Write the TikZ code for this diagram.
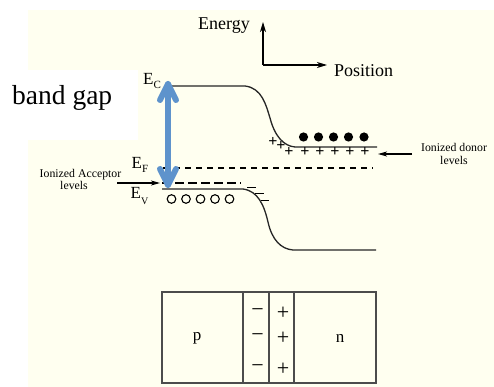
\documentclass[tikz,border=0pt]{standalone}
\usepackage{fontspec}
\setmainfont{Liberation Serif}
\usetikzlibrary{arrows.meta,calc}
\definecolor{cream}{RGB}{255,255,240}
\definecolor{gapblue}{RGB}{94,147,204}
\begin{document}
\begin{tikzpicture}[x=1pt,y=-1pt,
  bandline/.style={line width=1.3pt, black!85, line join=round},
  txt/.style={inner sep=0pt, anchor=base west},
  lbl/.style={inner sep=0pt, font=\fontsize{11.8}{12}\selectfont},
  chg/.style={inner sep=0pt, font=\fontsize{16}{16}\selectfont\bfseries},
  thin/.style={line width=1pt, black},
  axisarrow/.style={line width=1.1pt, -{Stealth[length=10pt,width=6pt,inset=3pt]}},
  ptr/.style={line width=1.1pt, -{Stealth[length=9pt,width=5pt,inset=2.5pt]}},
  gaparrow/.style={line width=6pt, gapblue, line cap=round, line join=round},
  boxline/.style={line width=1.2pt, black!70},
  boxchg/.style={inner sep=0pt, font=\fontsize{22}{22}\selectfont},
  hole/.style={line width=1.1pt, black}]
% backgrounds
\fill[white] (0,0) rectangle (494,387);
\fill[cream] (28,10) rectangle (494,387);
\fill[white] (0,70) rectangle (138,140);
\useasboundingbox (0,0) rectangle (494,387);

% axes
\coordinate (O) at (263,65);
\coordinate (Etip) at (263,22);
\coordinate (Ptip) at (327,65);
\draw[axisarrow] (O) -- (Etip);
\draw[axisarrow] (O) -- (Ptip);
\node[txt, font=\fontsize{18}{18}\selectfont] (energy) at (198,30) {Energy};
\node[txt, font=\fontsize{18}{18}\selectfont] (position) at (334,77) {Position};

% band gap label
\node[txt, font=\fontsize{27.5}{28}\selectfont] (bandgap) at (12,105) {band gap};

% energy labels
\node[txt, font=\fontsize{17}{17}\selectfont] (Ec) at (143,85) {E\raisebox{-4pt}{\fontsize{11}{11}\selectfont C}};
\node[txt, font=\fontsize{17}{17}\selectfont] (Ef) at (131.5,168.5) {E\raisebox{-4pt}{\fontsize{11}{11}\selectfont F}};
\node[txt, font=\fontsize{17}{17}\selectfont] (Ev) at (130.5,198) {E\raisebox{-6pt}{\fontsize{10}{10}\selectfont V}};

% conduction band
\coordinate (cL) at (166,86);
\coordinate (cR) at (377,147);
\draw[bandline] (cL) -- (245,86) .. controls (262,88) and (266,105) .. (270,118)
   .. controls (275,137) and (284,146) .. (295,147) -- (cR);

% valence band
\coordinate (vL) at (162,189);
\coordinate (vR) at (376,250);
\draw[bandline] (vL) -- (243,189) .. controls (258,191) and (264,205) .. (268,222)
   .. controls (272,240) and (281,249) .. (293,250) -- (vR);

% Fermi level
\coordinate (fL) at (163,168);
\coordinate (fR) at (373,168);
\draw[line width=1.1pt, dash pattern=on 6pt off 5pt] (fL) -- (fR);

% acceptor level
\coordinate (aL) at (162,183);
\coordinate (aR) at (241,183);
\draw[line width=1.1pt, dash pattern=on 9pt off 4pt] (aL) -- (aR);

% ionized acceptors (minus) along valence band bend
\draw[thin] (247,187) -- (256,187);
\draw[thin] (255,193) -- (264,193);
\draw[thin] (261,200) -- (269,200);

% holes
\foreach \x in {171.5,186,200.5,215,229.5}
  \draw[hole] (\x,199) circle[radius=4.3pt];

% electrons
\foreach \x in {303.5,318.5,333.5,348.5,364}
  \fill (\x,137) circle[radius=4.6pt];

% ionized donors
\foreach \p in {(273,141.5),(281,145.5),(289,151.5),(305,152),(320,152),(335,152),(350,152),(365,152)}
  \node[chg] at \p {+};

% donor pointer
\coordinate (dS) at (412,154);
\coordinate (dE) at (378,154);
\draw[ptr] (dS) -- (dE);
\node[lbl, anchor=base] (donor1) at (454,152) {Ionized donor};
\node[lbl, anchor=base] (donor2) at (454,165) {levels};

% acceptor pointer
\coordinate (acS) at (117,183);
\coordinate (acE) at (160,183);
\draw[ptr] (acS) -- (acE);
\node[lbl, anchor=base] (acc1) at (80.5,177.5) {Ionized Acceptor};
\node[lbl, anchor=base] (acc2) at (74,189.5) {levels};

% band gap double arrow
\coordinate (gT) at (168,84);
\coordinate (gB) at (168,185);
\draw[gaparrow] (gT) -- (gB);
\draw[gaparrow] ($(gT)+(-8,16)$) -- (gT) -- ($(gT)+(8,16)$);
\draw[gaparrow] ($(gB)+(-8,-16)$) -- (gB) -- ($(gB)+(8,-16)$);

% junction box
\draw[boxline] (162,292) rectangle (376,383);
\draw[boxline] (243,292) -- (243,383);
\draw[boxline] (269,292) -- (269,383);
\draw[boxline] (294,292) -- (294,383);
\node[inner sep=0pt, font=\fontsize{17}{17}\selectfont] (p) at (197,338) {p};
\node[inner sep=0pt, font=\fontsize{17}{17}\selectfont] (n) at (340,338) {n};
\foreach \y in {313,338,369} {
  \node[boxchg] at (257.5,\y) {−};
  \node[boxchg] at (283,\y) {+};
}
\end{tikzpicture}
\end{document}
